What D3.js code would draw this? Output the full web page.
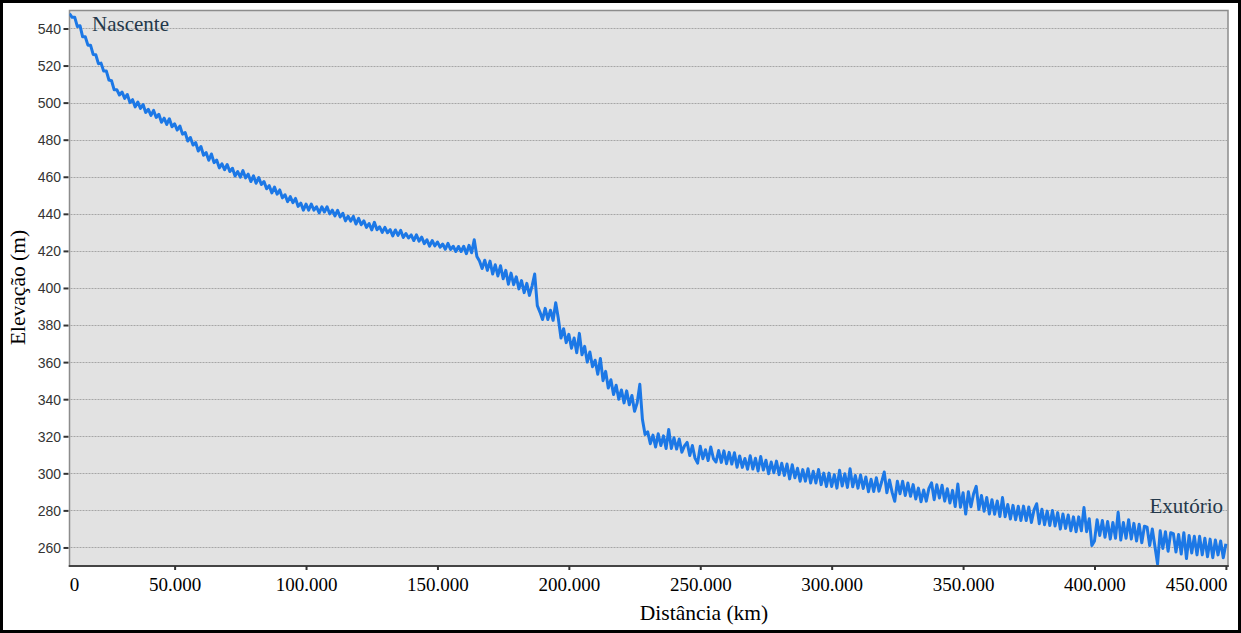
<!DOCTYPE html>
<html lang="pt">
<head>
  <meta charset="UTF-8" />
  <title>Perfil longitudinal</title>
  <style>
  body {
    margin: 0;
    background: #fff;
  }
  svg {
    display: block;
  }
  .serif {
    font-family: "Liberation Serif", "Times New Roman", serif;
  }
  </style>
  <script src="https://d3js.org/d3.v7.min.js"></script>
</head>
<body>
  <div id="chart"></div>
  <script>
    // Distance grid (m): first sample and step
    const distStart = 10000;
    const distStep = 1000;

    // Elevation (m), one value per km from 10 km to 450 km
    const elevation = [
      548, 546, 546, 541, 541.5, 535.5, 535.5, 531, 531, 526,
      525.8, 521, 521.3, 517, 517.1, 512.2, 511.8, 506.9, 507, 504.1,
      505.7, 502.3, 504.4, 500, 501.6, 497.7, 500.3, 496.9, 499, 494.7,
      496.4, 493.1, 495.8, 492, 493.7, 489.4, 491.6, 488.2, 491.3, 487,
      488.6, 485.2, 487.4, 483, 483.9, 479.3, 481.2, 477.1, 478.5, 473.9,
      476.3, 471.6, 473, 468.9, 472.3, 467.6, 469, 464.8, 467, 463.8,
      466.6, 462.8, 464.6, 460.4, 462.8, 459.8, 463.3, 459.4, 461.4, 457.4,
      460.5, 456.5, 459.6, 455.8, 457.4, 453.5, 455.2, 451.3, 454.4, 450.6,
      452.9, 448.6, 450.3, 446.6, 449.3, 446, 448.3, 444, 445.8, 442,
      445.3, 442, 445.3, 442, 443.8, 440.5, 443.8, 441, 443.8, 440,
      442, 438.9, 441.9, 438.3, 440.3, 436.2, 438.7, 436.1, 438.6, 434.5,
      437.6, 434.1, 436.2, 432.7, 434.8, 431.3, 435.4, 431.4, 433, 430,
      432.7, 429.8, 431.5, 428.1, 431.3, 428.4, 431.1, 427.2, 429.4, 427,
      428.6, 425.6, 428.7, 425.3, 427.4, 423.9, 426, 422.6, 425.6, 422.7,
      424.8, 422, 423.7, 420.9, 424.1, 420.8, 422.5, 419.7, 422.4, 419.7,
      422.5, 418.5, 423, 419, 426, 417, 414.5, 410.5, 415, 409.5,
      414.5, 407.5, 412.5, 406.5, 412, 405, 409.5, 402, 408, 401.8,
      406, 399.5, 404, 397.5, 402.5, 396, 401, 407.5, 390.5, 387,
      383, 389, 383, 388, 382.5, 392, 383.5, 373, 378, 370.5,
      375, 367.5, 373, 365, 375.5, 364, 368.5, 360, 365.5, 357.5,
      361, 353.5, 362, 350, 355, 346, 350.5, 342.5, 347.5, 340,
      345, 338, 344.5, 337, 342, 333.5, 338, 348, 329, 321,
      322.4, 316, 320.6, 314.2, 321.3, 315, 320.2, 313.4, 323.6, 313.4,
      319.2, 313.1, 318.5, 311.4, 314.8, 316.7, 309.6, 315, 308.2, 305.5,
      314.6, 307.9, 312.7, 306.9, 314.2, 308, 306.1, 312.3, 305.9, 312.1,
      305.2, 311.3, 305, 311.1, 303.3, 309.4, 303.2, 308, 302.2, 309.5,
      302.3, 308.1, 301.3, 309.1, 301.8, 307.1, 299.8, 306.1, 300.3, 306.6,
      299.3, 305.4, 298.9, 305, 297, 304.6, 297.6, 302.7, 295.7, 302,
      295.8, 302.5, 294.8, 301.1, 294.8, 302.1, 293.9, 300.1, 292.9, 300.1,
      292.9, 299.2, 292, 301.6, 293.2, 299.8, 292.4, 302.5, 292.7, 298.8,
      292, 299.1, 291.8, 298, 290.1, 296.8, 290.2, 297.6, 290.4, 295.3,
      300.7, 289.5, 296.4, 289.7, 284.9, 295.7, 289, 295.7, 288, 294.8,
      287.6, 293.9, 286.2, 292, 284.7, 291, 285, 291.9, 294.9, 285.8,
      293.8, 286.7, 293.6, 285, 291.7, 284, 290.8, 282.1, 294.2, 281.7,
      289.5, 278, 290, 282, 289, 293, 280.5, 288, 279.5, 287,
      278.1, 285.8, 277.9, 285.1, 276.7, 286.9, 276.6, 283.2, 275.4, 282.7,
      275, 282.2, 274.5, 282.3, 274.5, 281.8, 273.5, 280.3, 283.6, 272.8,
      280.6, 272.3, 279.6, 271.8, 280, 271.6, 278.8, 269.9, 278.1, 270.3,
      277.5, 269, 276.5, 268.5, 276.5, 269, 281.5, 268.5, 275.5, 261,
      263.5, 275, 266.5, 274.5, 265.5, 274, 264.5, 273.5, 265, 279,
      264, 273.5, 265, 275, 264.5, 273, 263.5, 272.5, 262.5, 271.5,
      271, 261, 270, 260.5, 251, 269, 259.5, 268.5, 258, 268,
      267.5, 257.5, 267, 256.5, 268, 254, 266.5, 257, 266, 256,
      266, 256, 265, 255, 264.5, 254.5, 264, 256, 263.5, 254.5, 262
    ];

    const yTicks = [260, 280, 300, 320, 340, 360, 380, 400, 420, 440, 460, 480, 500, 520, 540];
    const xTicks = [50000, 100000, 150000, 200000, 250000, 300000, 350000, 400000, 450000];
    const yTitle = "Elevação (m)";
    const xTitle = "Distância (km)";
    const startLabel = "Nascente";
    const endLabel = "Exutório";

    const data = elevation.map((e, i) => ({ dist: distStart + i * distStep, elev: e }));

    const width = 1241;
    const height = 633;
    const plot = { left: 69.5, right: 1228, top: 10.5, bottom: 566 };

    const ptBR = d3.formatLocale({ decimal: ",", thousands: ".", grouping: [3], currency: ["R$", ""] });
    const fmt = ptBR.format(",");

    const svg = d3.select("#chart").append("svg")
      .attr("width", width)
      .attr("height", height);

    // outer frame
    svg.append("rect")
      .attr("x", 1.5).attr("y", 1.5)
      .attr("width", width - 3).attr("height", height - 3)
      .attr("fill", "#fff")
      .attr("stroke", "#000")
      .attr("stroke-width", 3);

    const x = d3.scaleLinear()
      .domain([10000, 450800])
      .range([plot.left, plot.right]);

    const y = d3.scaleLinear()
      .domain([250, 549.7])
      .range([plot.bottom, plot.top]);

    // plot background
    svg.append("rect")
      .attr("x", plot.left).attr("y", plot.top)
      .attr("width", plot.right - plot.left)
      .attr("height", plot.bottom - plot.top)
      .attr("fill", "#e2e2e2")
      .attr("stroke", "#8c8c8c")
      .attr("stroke-width", 1.5);

    // gridlines
    svg.append("g")
      .selectAll("line")
      .data(yTicks)
      .enter().append("line")
      .attr("x1", plot.left + 1)
      .attr("x2", plot.right - 1)
      .attr("y1", d => Math.round(y(d)) + 0.5)
      .attr("y2", d => Math.round(y(d)) + 0.5)
      .attr("stroke", "#a6a6a6")
      .attr("stroke-width", 1.2)
      .attr("stroke-dasharray", "2,1");

    // profile line
    svg.append("clipPath").attr("id", "clip")
      .append("rect")
      .attr("x", plot.left).attr("y", plot.top)
      .attr("width", plot.right - plot.left)
      .attr("height", plot.bottom - plot.top);

    const line = d3.line()
      .x(d => x(d.dist))
      .y(d => y(d.elev));

    svg.append("path")
      .datum(data)
      .attr("clip-path", "url(#clip)")
      .attr("fill", "none")
      .attr("stroke", "#1c78e6")
      .attr("stroke-width", 3)
      .attr("stroke-linejoin", "round")
      .attr("d", line);

    // y axis
    const yAxis = svg.append("g")
      .attr("transform", `translate(${plot.left},0)`)
      .call(d3.axisLeft(y).tickValues(yTicks).tickSize(6).tickPadding(2.5));
    yAxis.select(".domain").remove();
    yAxis.selectAll(".tick line")
      .attr("x1", -1)
      .attr("stroke", "#333")
      .attr("stroke-width", 2);
    yAxis.selectAll(".tick text")
      .attr("fill", "#333")
      .attr("dy", "0.35em")
      .style("font-family", "'Liberation Sans', Arial, sans-serif")
      .style("font-size", "14px");

    // x axis
    const xAxis = svg.append("g")
      .attr("transform", `translate(0,${plot.bottom})`)
      .call(d3.axisBottom(x).tickValues(xTicks).tickSize(4).tickFormat(fmt));
    xAxis.select(".domain")
      .attr("stroke", "#444")
      .attr("stroke-width", 2)
      .attr("d", `M${plot.left - 0.75},0H${plot.right + 0.75}`);
    xAxis.selectAll(".tick line")
      .attr("stroke", "#333")
      .attr("stroke-width", 2);
    xAxis.selectAll(".tick text")
      .attr("y", 25)
      .attr("dy", 0)
      .attr("fill", "#000")
      .attr("class", "serif")
      .style("font-size", "19px");
    // last label is pulled inside the frame
    xAxis.selectAll(".tick text")
      .filter(d => d === xTicks[xTicks.length - 1])
      .attr("text-anchor", "end")
      .attr("x", 1);

    // the "0" sits at the left corner of the axis
    svg.append("text")
      .attr("class", "serif")
      .attr("x", plot.left + 5)
      .attr("y", plot.bottom + 25)
      .attr("text-anchor", "middle")
      .style("font-size", "19px")
      .text(fmt(0));

    // axis titles
    svg.append("text")
      .attr("class", "serif")
      .attr("x", 704)
      .attr("y", 620)
      .attr("text-anchor", "middle")
      .style("font-size", "21.5px")
      .text(xTitle);

    svg.append("text")
      .attr("class", "serif")
      .attr("transform", "translate(25,287.5) rotate(-90)")
      .attr("text-anchor", "middle")
      .style("font-size", "21.5px")
      .text(yTitle);

    // source / mouth labels
    svg.append("text")
      .attr("class", "serif")
      .attr("x", 92)
      .attr("y", 31)
      .attr("fill", "#24384a")
      .style("font-size", "21px")
      .text(startLabel);

    svg.append("text")
      .attr("class", "serif")
      .attr("x", 1223)
      .attr("y", 512.5)
      .attr("text-anchor", "end")
      .attr("fill", "#24384a")
      .style("font-size", "21px")
      .text(endLabel);
  </script>
</body>
</html>
